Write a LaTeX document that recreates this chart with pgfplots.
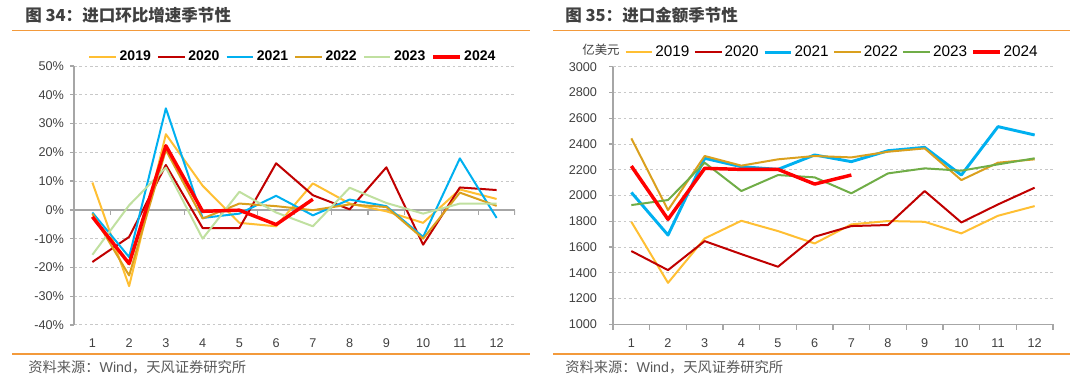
\documentclass[border=0pt]{standalone}
\usepackage{fontspec}
\setmainfont{Liberation Sans}
\newfontfamily\cjk{Noto Sans CJK SC}
\usepackage{pgfplots}
\pgfplotsset{compat=1.18}
\definecolor{c19}{HTML}{FFBF33}
\definecolor{c20}{HTML}{C00000}
\definecolor{c21}{HTML}{00B0F0}
\definecolor{c22}{HTML}{DAA01E}
\definecolor{c23a}{HTML}{C0E0A0}
\definecolor{c23b}{HTML}{70AD47}
\definecolor{c24}{HTML}{FF0000}
\definecolor{orng}{HTML}{F39A3B}
\definecolor{axgray}{HTML}{A6A6A6}
\definecolor{gridgray}{HTML}{C8C8C8}
\definecolor{txt}{HTML}{404040}
\definecolor{srcgray}{HTML}{595959}
\pgfplotsset{
 mybase/.style={
  scale only axis, anchor=south west,
  xmin=0.5, xmax=12.5, xtick={1,...,12},
  /pgf/number format/assume math mode=true,
  tick label style={font=\fontsize{9.5}{11}\selectfont, text=txt},
  ymajorgrids, major grid style={gridgray, line width=0.75pt, dash pattern=on 2pt off 2pt},
  axis y line*=left, axis x line*=bottom,
  y axis line style={axgray, line width=1.1pt},
  ytick style={axgray, line width=1pt},
  major x tick style={draw=none},
  tick align=outside, major tick length=3pt, minor tick length=4pt,
  xticklabel style={yshift=-4pt},
  every axis plot/.append style={line width=1.5pt, mark=none, line join=round},
  legend columns=6,
  legend image code/.code={\draw[##1] (0pt,0pt) -- (20pt,0pt);},
 }
}
\begin{document}
\begin{tikzpicture}
\path[use as bounding box] (0,0) rectangle (810pt,285.75pt);
% titles and frame lines
\node[anchor=west, inner sep=0pt, text=txt, font=\cjk\bfseries\fontsize{12.4}{14}\selectfont] at (18.75pt,274.5pt) {图 34：进口环比增速季节性};
\node[anchor=west, inner sep=0pt, text=txt, font=\cjk\bfseries\fontsize{12.4}{14}\selectfont] at (423.75pt,274.5pt) {图 35：进口金额季节性};
\draw[orng, line width=1.1pt] (9pt,262.9pt) -- (397.5pt,262.9pt);
\draw[orng, line width=1.1pt] (414.75pt,262.9pt) -- (802.5pt,262.9pt);
\draw[orng, line width=1.1pt] (9pt,20.25pt) -- (397.5pt,20.25pt);
\draw[orng, line width=1.1pt] (414.75pt,20.25pt) -- (802.5pt,20.25pt);
\node[anchor=west, inner sep=0pt, text=srcgray, font=\cjk\fontsize{10.7}{12}\selectfont] at (21pt,10.5pt) {资料来源：{\rmfamily Wind}，天风证券研究所};
\node[anchor=west, inner sep=0pt, text=srcgray, font=\cjk\fontsize{10.7}{12}\selectfont] at (423.75pt,10.5pt) {资料来源：{\rmfamily Wind}，天风证券研究所};
\node[inner sep=0pt, text=txt, font=\cjk\fontsize{9.3}{11}\selectfont] at (450.75pt,248.25pt) {亿美元};

% ---------- left chart ----------
\begin{axis}[mybase,
  at={(55.5pt,42pt)}, width=330.75pt, height=194.25pt,
  ymin=-40, ymax=50, ytick={-40,-30,...,50},
  yticklabel={\pgfmathprintnumber{\tick}\%},
  yticklabel style={xshift=-1pt},
  x axis line style={draw=none},
  legend style={at={(0.032,1.035)}, anchor=west, draw=none, fill=none, inner sep=0pt,
    font=\bfseries\fontsize{10.5}{12}\selectfont, text=black,
    nodes={inner sep=1pt},
    /tikz/every odd column/.append style={column sep=1pt},
    /tikz/every even column/.append style={column sep=3.6pt}},
]
\draw[axgray, line width=1.1pt] (axis cs:0.5,0) -- (axis cs:12.5,0);
\pgfplotsinvokeforeach{1.5,2.5,3.5,4.5,5.5,6.5,7.5,8.5,9.5,10.5,11.5,12.5}{
  \draw[axgray, line width=1pt] (axis cs:#1,0) -- ++(0pt,-3.5pt);
}
\addplot[c19] coordinates {(1,9.5)(2,-26.5)(3,26.3)(4,8.4)(5,-4.5)(6,-5.7)(7,9.2)(8,2.2)(9,-0.5)(10,-4.5)(11,7.1)(12,3.8)};
\addlegendentry{2019}
\addplot[c20] coordinates {(1,-18.1)(2,-9.4)(3,15.6)(4,-6.3)(5,-6.3)(6,16.2)(7,5.1)(8,0.2)(9,14.8)(10,-12.1)(11,7.8)(12,6.9)};
\addlegendentry{2020}
\addplot[c21] coordinates {(1,-0.9)(2,-16.4)(3,35.3)(4,-2.8)(5,-1.3)(6,4.9)(7,-1.9)(8,3.6)(9,1.3)(10,-9.4)(11,17.9)(12,-2.8)};
\addlegendentry{2021}
\addplot[c22] coordinates {(1,-1.3)(2,-22.8)(3,20.8)(4,-3.0)(5,2.2)(6,1.3)(7,-0.1)(8,1.9)(9,1.0)(10,-10)(11,6.0)(12,1.4)};
\addlegendentry{2022}
\addplot[c23a] coordinates {(1,-15.6)(2,1.6)(3,14.7)(4,-10)(5,6.3)(6,-0.9)(7,-5.7)(8,7.7)(9,2.4)(10,-1.3)(11,2.2)(12,2.2)};
\addlegendentry{2023}
\addplot[c24, line width=2.6pt] coordinates {(1,-2.4)(2,-18.7)(3,22.3)(4,-0.5)(5,-0.1)(6,-5.1)(7,3.7)};
\addlegendentry{2024}
\end{axis}

% ---------- right chart ----------
\begin{axis}[mybase,
  at={(459.75pt,42.5pt)}, width=330pt, height=193.2pt,
  ymin=1000, ymax=3000, ytick={1000,1200,...,3000},
  yticklabel style={xshift=-5.5pt, /pgf/number format/1000 sep={}},
  x axis line style={axgray, line width=1.1pt},
  minor xtick={0.5,1.5,...,12.5},
  minor x tick style={axgray, line width=1pt},
  legend style={at={(0.026,1.057)}, anchor=west, draw=none, fill=none, inner sep=0pt,
    font=\fontsize{11.5}{13}\selectfont, text=black,
    nodes={inner sep=1pt},
    /tikz/every odd column/.append style={column sep=0.5pt},
    /tikz/every even column/.append style={column sep=2.3pt}},
]
\addplot[c19] coordinates {(1,1796)(2,1322)(3,1667)(4,1804)(5,1724)(6,1628)(7,1776)(8,1802)(9,1796)(10,1706)(11,1843)(12,1918)};
\addlegendentry{2019}
\addplot[c20] coordinates {(1,1569)(2,1421)(3,1646)(4,1545)(5,1447)(6,1680)(7,1763)(8,1771)(9,2035)(10,1791)(11,1931)(12,2061)};
\addlegendentry{2020}
\addplot[c21, line width=2.2pt] coordinates {(1,2024)(2,1693)(3,2289)(4,2224)(5,2203)(6,2315)(7,2263)(8,2348)(9,2374)(10,2159)(11,2535)(12,2470)};
\addlegendentry{2021}
\addplot[c22] coordinates {(1,2444)(2,1887)(3,2307)(4,2232)(5,2281)(6,2307)(7,2296)(8,2340)(9,2366)(10,2120)(11,2255)(12,2281)};
\addlegendentry{2022}
\addplot[c23b] coordinates {(1,1926)(2,1965)(3,2255)(4,2035)(5,2159)(6,2141)(7,2017)(8,2172)(9,2211)(10,2193)(11,2242)(12,2289)};
\addlegendentry{2023}
\addplot[c24, line width=2.6pt] coordinates {(1,2229)(2,1815)(3,2211)(4,2203)(5,2203)(6,2089)(7,2159)};
\addlegendentry{2024}
\end{axis}
\end{tikzpicture}
\end{document}
